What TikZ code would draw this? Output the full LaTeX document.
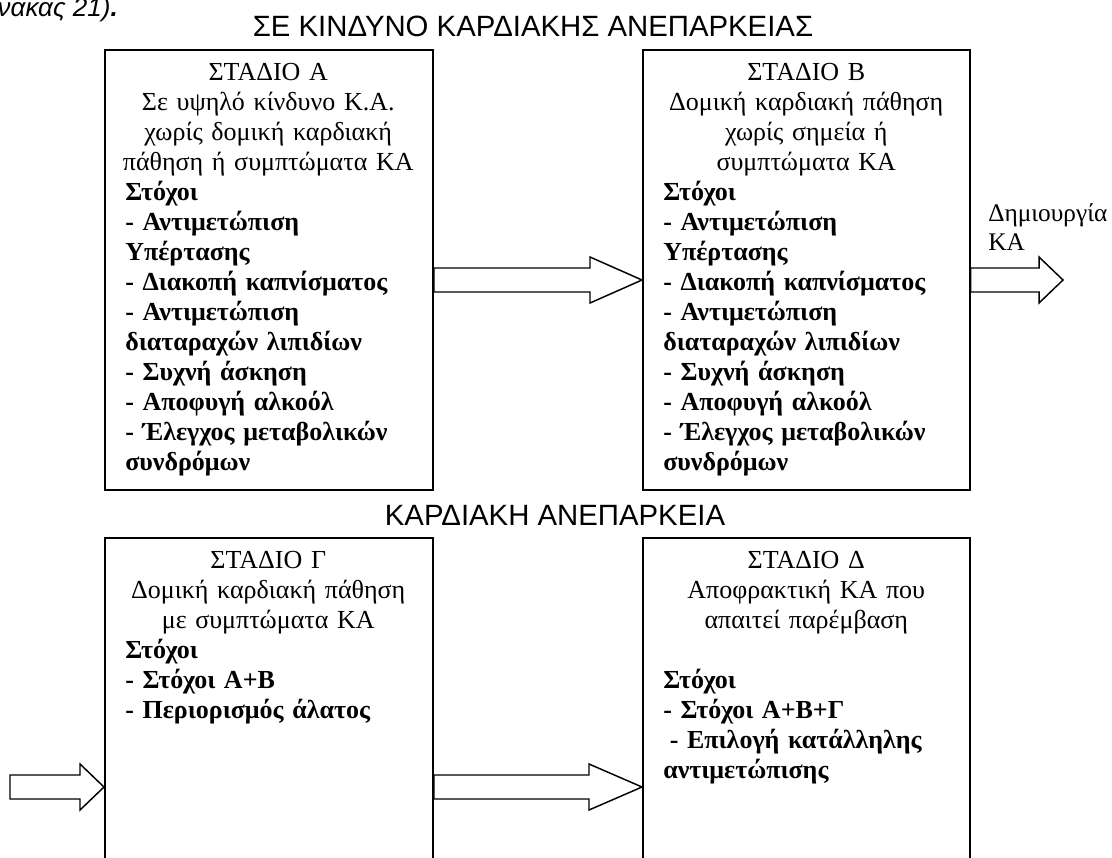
\documentclass[tikz,border=0pt]{standalone}
\usepackage{fontspec}
\setmainfont{Liberation Serif}
\setsansfont{Liberation Sans}
\usetikzlibrary{positioning,calc}

\tikzset{
  stagebox/.style={draw, line width=1.4pt, inner sep=0pt, anchor=north west},
  stagetext/.style={inner sep=0pt, anchor=north west, text width=225pt,
    font=\fontsize{19.5pt}{22.5pt}\selectfont},
  heading/.style={inner sep=0pt, anchor=base, font=\sffamily\fontsize{22pt}{26pt}\selectfont},
  blockarrow/.style={draw, line width=1.1pt, line join=miter}
}

% fat outlined arrow: start, tip, head length
\newcommand{\fatarrow}[3]{%
  \draw[blockarrow] ($(#1)+(0,-12)$) -- ($(#2)+(-#3,-12)$) -- ($(#2)+(-#3,-23)$) -- (#2)
    -- ($(#2)+(-#3,23)$) -- ($(#2)+(-#3,12)$) -- ($(#1)+(0,12)$) -- cycle;}
% goals part of a stage text
\newcommand{\goals}[1]{{\raggedright\leftskip=5.25pt\bfseries #1\par}}

\begin{document}
\begin{tikzpicture}[x=0.75pt, y=-0.75pt]
    \clip (0,0) rectangle (1112,857);
    % caption remains and headings
    \node[inner sep=0pt, anchor=base east, font=\sffamily\itshape\fontsize{19.5pt}{22pt}\selectfont] (caption) at (118,16) {νακας 21)\textbf{.}};
    \node[heading] (riskhead) at (533,36) {ΣΕ ΚΙΝΔΥΝΟ ΚΑΡΔΙΑΚΗΣ ΑΝΕΠΑΡΚΕΙΑΣ};
    \node[heading] (hfhead) at (555,525) {ΚΑΡΔΙΑΚΗ ΑΝΕΠΑΡΚΕΙΑ};

    % stage boxes
    \node[stagebox, minimum width=246pt, minimum height=330pt] (boxA) at (104,49) {};
    \node[stagebox, minimum width=245pt, minimum height=330pt] (boxB) at (642,49) {};
    \node[stagebox, minimum width=246pt, minimum height=260pt] (boxC) at (104,537) {};
    \node[stagebox, minimum width=245pt, minimum height=260pt] (boxD) at (642,537) {};

    % stage texts
    \node[stagetext] (textA) at ($(boxA.north west)+(14,14)$) {%
      {\centering ΣΤΑΔΙΟ Α\\Σε υψηλό κίνδυνο Κ.Α.\\χωρίς δομική καρδιακή\\πάθηση ή συμπτώματα ΚΑ\par}
      \goals{Στόχοι\\- Αντιμετώπιση\\Υπέρτασης\\- Διακοπή καπνίσματος\\- Αντιμετώπιση\\διαταραχών λιπιδίων\\- Συχνή άσκηση\\- Αποφυγή αλκοόλ\\- Έλεγχος μεταβολικών\\συνδρόμων}};
    \node[stagetext] (textB) at ($(boxB.north west)+(14,14)$) {%
      {\centering ΣΤΑΔΙΟ Β\\Δομική καρδιακή πάθηση\\χωρίς σημεία ή\\συμπτώματα ΚΑ\par}
      \goals{Στόχοι\\- Αντιμετώπιση\\Υπέρτασης\\- Διακοπή καπνίσματος\\- Αντιμετώπιση\\διαταραχών λιπιδίων\\- Συχνή άσκηση\\- Αποφυγή αλκοόλ\\- Έλεγχος μεταβολικών\\συνδρόμων}};
    \node[stagetext] (textC) at ($(boxC.north west)+(14,14)$) {%
      {\centering ΣΤΑΔΙΟ Γ\\Δομική καρδιακή πάθηση\\με συμπτώματα ΚΑ\par}
      \goals{Στόχοι\\- Στόχοι Α+Β\\- Περιορισμός άλατος}};
    \node[stagetext] (textD) at ($(boxD.north west)+(14,14)$) {%
      {\centering ΣΤΑΔΙΟ Δ\\Αποφρακτική ΚΑ που\\απαιτεί παρέμβαση\par}
      \goals{\mbox{}\\Στόχοι\\- Στόχοι Α+Β+Γ\\\hspace*{0.25em}- Επιλογή κατάλληλης\\αντιμετώπισης}};

    % outgoing label
    \node[align=left, inner sep=0pt, anchor=north west, font=\fontsize{19pt}{22pt}\selectfont] (outlabel) at (988,203) {Δημιουργία\\ΚΑ};

    % block arrows
    \coordinate (abstart) at (boxA.east |- 0,280);
    \coordinate (abtip) at (boxB.west |- 0,280);
    \coordinate (outstart) at (boxB.east |- 0,280);
    \coordinate (outtip) at (1063,280);
    \coordinate (instart) at (10,787);
    \coordinate (intip) at (boxC.west |- 0,787);
    \coordinate (cdstart) at (boxC.east |- 0,787);
    \coordinate (cdtip) at (boxD.west |- 0,787);
    \fatarrow{abstart}{abtip}{52}
    \fatarrow{outstart}{outtip}{24}
    \fatarrow{instart}{intip}{24}
    \fatarrow{cdstart}{cdtip}{53}
\end{tikzpicture}
\end{document}
